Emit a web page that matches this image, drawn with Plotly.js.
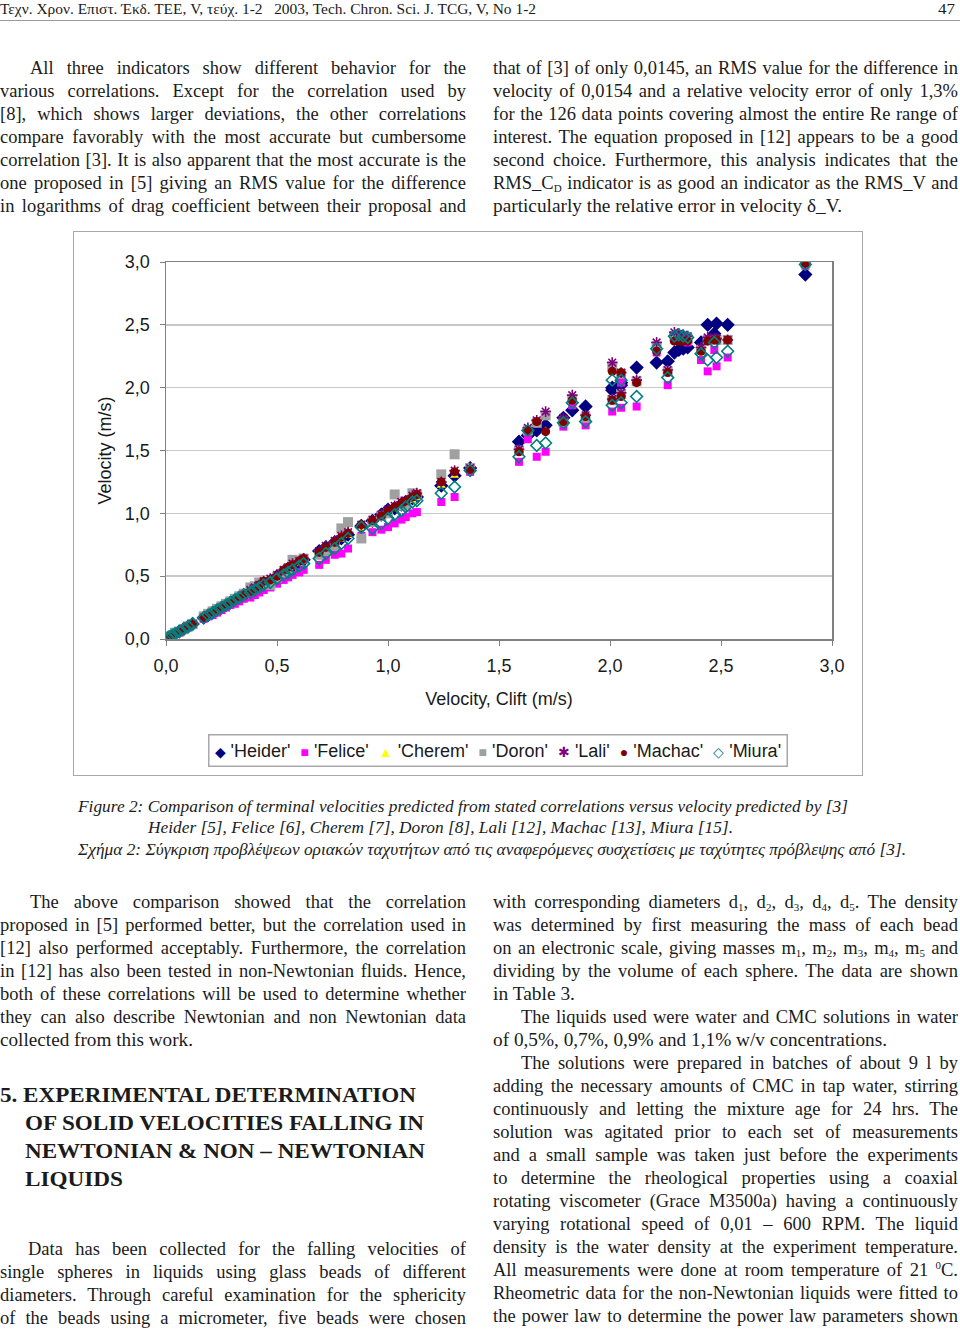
<!DOCTYPE html>
<html>
<head>
<meta charset="utf-8">
<script src="https://cdn.plot.ly/plotly-3.0.1.min.js"></script>
<style>
  body { margin:0; background:#fff; width:960px; height:1331px; position:relative; overflow:hidden;
         font-family:"Liberation Serif","Times New Roman",serif; color:#1b1b1b; }
  .ln { position:absolute; white-space:nowrap; font-size:18.5px; line-height:23px; transform-origin:0 50%; }
  .ln sub { font-size:11px; vertical-align:-3px; line-height:0; }
  .ln sup { font-size:11px; vertical-align:7px; line-height:0; }
  .hd { font-size:15.5px; }
  .h2 { font-weight:bold; font-size:21.5px; }
  .cap { font-style:italic; font-size:17px; }
  #rule { position:absolute; left:0; top:20px; width:960px; height:1px; background:#9a9a9a; }
  #box { position:absolute; left:73px; top:231px; width:790px; height:545px; border:1.5px solid #a8a8a8; box-sizing:border-box; }
  #chart { position:absolute; left:75px; top:233px; width:786px; height:541px; }
</style>
</head>
<body>
<div id="rule"></div>
<div id="box"></div>
<div id="chart"></div>
<script>
// ---------- DATA (Clift velocity vs predicted velocity, m/s) ----------
const seriesNames = ["'Heider'", "'Felice'", "'Cherem'", "'Doron'", "'Lali'", "'Machac'", "'Miura'"];

const clift = [
  0.01,0.02,0.03,0.04,0.06,0.08,0.10,0.12,
  0.17,0.19,0.21,0.23,0.25,0.27,0.29,0.31,0.33,0.35,
  0.38,0.40,0.42,0.44,
  0.47,0.50,0.53,0.55,0.57,0.60,0.62,
  0.69,0.72,0.76,0.79,0.82,0.88,
  0.93,0.97,1.00,1.03,1.06,1.08,1.11,1.13,
  1.24,1.30,1.37,
  1.59,1.63,1.67,1.71,
  1.79,1.83,1.89,
  2.01,2.01,2.05,2.05,2.12,
  2.21,2.26,2.29,2.31,2.33,2.35,
  2.41,2.44,2.47,2.48,2.53,
  2.88
];

const heider = [
  0.01,0.02,0.03,0.04,0.06,0.08,0.10,0.12,
  0.17,0.19,0.21,0.23,0.25,0.27,0.29,0.31,0.33,0.35,
  0.38,0.40,0.42,0.44,
  0.46,0.50,0.53,0.56,0.58,0.61,0.63,
  0.70,0.73,0.77,0.80,0.83,0.90,
  0.94,0.99,1.03,1.04,1.07,1.09,1.12,1.13,
  1.22,1.30,1.36,
  1.57,1.62,1.66,1.70,
  1.76,1.82,1.85,
  1.98,2.00,2.02,2.04,2.16,
  2.20,2.21,2.28,2.30,2.31,2.32,
  2.36,2.50,2.43,2.51,2.50,
  2.90
];

const felice = [
  0.01,0.02,0.03,0.04,0.05,0.07,0.09,0.11,
  0.16,0.18,0.19,0.21,0.23,0.25,0.27,0.28,0.30,0.32,
  0.33,0.35,0.37,0.39,
  0.41,0.44,0.47,0.49,0.51,0.53,0.55,
  0.59,0.63,0.67,0.68,0.72,0.82,
  0.85,0.87,0.89,0.92,0.95,0.97,1.00,1.01,
  1.09,1.13,1.33,
  1.41,1.59,1.45,1.49,
  1.69,1.86,1.70,
  1.81,2.16,1.84,2.04,1.85,
  2.28,2.02,2.38,2.38,2.37,2.36,
  2.22,2.13,2.30,2.17,2.24,
  2.97
];

const cherem = [
  0.01,0.02,0.03,0.04,0.06,0.08,0.10,0.12,
  0.17,0.19,0.21,0.23,0.25,0.27,0.29,0.31,0.33,0.35,
  0.38,0.40,0.42,0.44,
  0.47,0.50,0.53,0.55,0.57,0.60,0.62,
  0.68,0.72,0.76,0.79,0.82,0.88,
  0.93,0.97,1.00,1.04,1.06,1.08,1.10,1.12,
  1.22,1.30,1.35,
  1.48,1.64,1.71,1.66,
  1.72,1.89,1.75,
  1.89,2.12,1.93,2.09,2.03,
  2.30,2.11,2.38,2.38,2.37,2.36,
  2.29,2.37,2.37,2.37,2.37,
  2.98
];

const doron = [
  0.01,0.02,0.03,0.05,0.06,0.08,0.10,0.12,
  0.18,0.20,0.22,0.24,0.26,0.28,0.30,0.32,0.34,0.36,
  0.41,0.42,0.45,0.44,
  0.43,0.49,0.53,0.56,0.63,0.62,0.64,
  0.67,0.70,0.74,0.88,0.93,0.80,
  0.93,0.98,1.00,1.15,1.06,1.07,1.16,1.15,
  1.31,1.47,1.36,
  1.50,1.66,1.72,1.78,
  1.73,1.91,1.76,
  1.90,2.17,1.95,2.11,2.05,
  2.33,2.13,2.41,2.40,2.40,2.39,
  2.30,2.38,2.38,2.38,2.38,
  2.99
];

const lali = [
  0.01,0.02,0.03,0.04,0.06,0.08,0.10,0.12,
  0.17,0.19,0.21,0.23,0.25,0.27,0.29,0.31,0.33,0.35,
  0.39,0.41,0.43,0.46,
  0.48,0.51,0.55,0.57,0.60,0.62,0.64,
  0.70,0.74,0.78,0.82,0.85,0.91,
  0.95,0.99,1.03,1.06,1.09,1.10,1.14,1.16,
  1.25,1.34,1.36,
  1.51,1.68,1.74,1.81,
  1.76,1.94,1.78,
  1.91,2.20,1.96,2.12,2.06,
  2.36,2.14,2.44,2.43,2.42,2.41,
  2.32,2.40,2.39,2.39,2.38,
  2.99
];

const machac = [
  0.01,0.02,0.03,0.04,0.06,0.08,0.10,0.12,
  0.17,0.19,0.21,0.23,0.25,0.27,0.29,0.31,0.33,0.35,
  0.38,0.40,0.43,0.46,
  0.47,0.50,0.55,0.57,0.59,0.62,0.64,
  0.69,0.73,0.77,0.81,0.84,0.91,
  0.94,0.98,1.02,1.05,1.08,1.10,1.13,1.15,
  1.25,1.33,1.35,
  1.49,1.66,1.73,1.65,
  1.73,1.90,1.77,
  1.90,2.13,1.93,2.12,2.04,
  2.29,2.12,2.37,2.37,2.37,2.37,
  2.29,2.37,2.38,2.38,2.38,
  2.99
];

const miura = [
  0.01,0.02,0.03,0.04,0.06,0.08,0.10,0.12,
  0.17,0.19,0.21,0.23,0.25,0.27,0.29,0.31,0.33,0.35,
  0.37,0.39,0.41,0.43,
  0.45,0.48,0.51,0.53,0.55,0.58,0.60,
  0.64,0.68,0.72,0.76,0.80,0.89,
  0.88,0.92,0.96,0.99,1.02,1.05,1.09,1.10,
  1.16,1.21,1.34,
  1.45,1.66,1.54,1.56,
  1.72,1.88,1.73,
  1.86,2.06,1.88,2.06,1.93,
  2.31,2.08,2.41,2.42,2.41,2.40,
  2.27,2.22,2.36,2.24,2.29,
  2.98
];

const xTicks = [0, 0.5, 1, 1.5, 2, 2.5, 3];
const yTicks = [0, 0.5, 1, 1.5, 2, 2.5, 3];

// ---------- PAGE TEXT ----------
// [left, centre y, width, html, mode, class]  mode: j = justified line, f = fit to width
const pageLines = [
  [0, 9, 536, "Τεχν. Χρον. Επιστ. Έκδ. ΤΕΕ, V, τεύχ. 1-2&nbsp;&nbsp; 2003, Tech. Chron. Sci. J. TCG, V, No 1-2", "f", "hd"],
  [938, 9, 17, "47", "f", "hd"],

  [30, 69, 436, "All three indicators show different behavior for the", "j"],
  [0, 92, 466, "various correlations. Except for the correlation used by", "j"],
  [0, 115, 466, "[8], which shows larger deviations, the other correlations", "j"],
  [0, 138, 466, "compare favorably with the most accurate but cumbersome", "j"],
  [0, 161, 466, "correlation [3]. It is also apparent that the most accurate is the", "j"],
  [0, 184, 466, "one proposed in [5] giving an RMS value for the difference", "j"],
  [0, 207, 466, "in logarithms of drag coefficient between their proposal and", "j"],

  [493, 69, 465, "that of [3] of only 0,0145, an RMS value for the difference in", "j"],
  [493, 92, 465, "velocity of 0,0154 and a relative velocity error of only 1,3%", "j"],
  [493, 115, 465, "for the 126 data points covering almost the entire Re range of", "j"],
  [493, 138, 465, "interest. The equation proposed in [12] appears to be a good", "j"],
  [493, 161, 465, "second choice. Furthermore, this analysis indicates that the", "j"],
  [493, 184, 465, "RMS_C<sub>D</sub> indicator is as good an indicator as the RMS_V and", "j"],
  [493, 207, 349, "particularly the relative error in velocity δ_V.", "f"],

  [78, 807, 770, "Figure 2: Comparison of terminal velocities predicted from stated correlations versus velocity predicted by [3]", "f", "cap"],
  [148, 828, 585, "Heider [5], Felice [6], Cherem [7], Doron [8], Lali [12], Machac [13], Miura [15].", "f", "cap"],
  [78, 850, 828, "Σχήμα 2: Σύγκριση προβλέψεων οριακών ταχυτήτων από τις αναφερόμενες συσχετίσεις με ταχύτητες πρόβλεψης από [3].", "f", "cap"],

  [30, 903, 436, "The above comparison showed that the correlation", "j"],
  [0, 926, 466, "proposed in [5] performed better, but the correlation used in", "j"],
  [0, 949, 466, "[12] also performed acceptably. Furthermore, the correlation", "j"],
  [0, 972, 466, "in [12] has also been tested in non-Newtonian fluids. Hence,", "j"],
  [0, 995, 466, "both of these correlations will be used to determine whether", "j"],
  [0, 1018, 466, "they can also describe Newtonian and non Newtonian data", "j"],
  [0, 1041, 193, "collected from this work.", "f"],

  [0, 1096, 416, "5. EXPERIMENTAL DETERMINATION", "f", "h2"],
  [25, 1124, 399, "OF SOLID VELOCITIES FALLING IN", "f", "h2"],
  [25, 1152, 400, "NEWTONIAN &amp; NON – NEWTONIAN", "f", "h2"],
  [25, 1180, 98, "LIQUIDS", "f", "h2"],

  [28, 1250, 438, "Data has been collected for the falling velocities of", "j"],
  [0, 1273, 466, "single spheres in liquids using glass beads of different", "j"],
  [0, 1296, 466, "diameters. Through careful examination for the sphericity", "j"],
  [0, 1319, 466, "of the beads using a micrometer, five beads were chosen", "j"],

  [493, 903, 465, "with corresponding diameters d<sub>1</sub>, d<sub>2</sub>, d<sub>3</sub>, d<sub>4</sub>, d<sub>5</sub>. The density", "j"],
  [493, 926, 465, "was determined by first measuring the mass of each bead", "j"],
  [493, 949, 465, "on an electronic scale, giving masses m<sub>1</sub>, m<sub>2</sub>, m<sub>3</sub>, m<sub>4</sub>, m<sub>5</sub> and", "j"],
  [493, 972, 465, "dividing by the volume of each sphere. The data are shown", "j"],
  [493, 995, 82, "in Table 3.", "f"],
  [521, 1018, 437, "The liquids used were water and CMC solutions in water", "j"],
  [493, 1041, 394, "of 0,5%, 0,7%, 0,9% and 1,1% w/v concentrations.", "f"],
  [521, 1064, 437, "The solutions were prepared in batches of about 9 l by", "j"],
  [493, 1087, 465, "adding the necessary amounts of CMC in tap water, stirring", "j"],
  [493, 1110, 465, "continuously and letting the mixture age for 24 hrs. The", "j"],
  [493, 1133, 465, "solution was agitated prior to each set of measurements", "j"],
  [493, 1156, 465, "and a small sample was taken just before the experiments", "j"],
  [493, 1179, 465, "to determine the rheological properties using a coaxial", "j"],
  [493, 1202, 465, "rotating viscometer (Grace M3500a) having a continuously", "j"],
  [493, 1225, 465, "varying rotational speed of 0,01 – 600 RPM. The liquid", "j"],
  [493, 1248, 465, "density is the water density at the experiment temperature.", "j"],
  [493, 1271, 465, "All measurements were done at room temperature of 21 <sup>0</sup>C.", "j"],
  [493, 1294, 465, "Rheometric data for the non-Newtonian liquids were fitted to", "j"],
  [493, 1317, 465, "the power law to determine the power law parameters shown", "j"]
];

function placeLine(x, yc, w, html, mode, cls) {
  const d = document.createElement("div");
  d.className = "ln " + (cls || "");
  d.innerHTML = html;
  d.style.left = x + "px";
  d.style.top = (yc - 12) + "px";
  document.body.appendChild(d);
  const nat = d.getBoundingClientRect().width;
  const gaps = (d.textContent.match(/ /g) || []).length;
  if (mode === "j" && nat < w && gaps) {
    d.style.wordSpacing = ((w - nat) / gaps) + "px";
  } else if (nat > 0) {
    d.style.transform = "scaleX(" + (w / nat) + ")";
  }
}
pageLines.forEach(l => placeLine(...l));

// ---------- CHART ----------
const styles = [
  { symbol: "diamond", color: "#000080", size: 11, glyph: "◆" },
  { symbol: "square", color: "#ff00ff", size: 8, glyph: "■" },
  { symbol: "triangle-up", color: "#ffff00", size: 8, glyph: "▲" },
  { symbol: "square", color: "#a0a0a0", size: 10, glyph: "■" },
  { symbol: "asterisk-open", color: "#800080", size: 9, glyph: "✱" },
  { symbol: "circle", color: "#800000", size: 9, glyph: "●" },
  { symbol: "diamond-open", color: "#008080", size: 9, glyph: "◇" }
];
const ySeries = [heider, felice, cherem, doron, lali, machac, miura];

const traces = ySeries.map((ys, i) => {
  const s = styles[i];
  const open = s.symbol.endsWith("-open");
  return {
    x: clift, y: ys, name: seriesNames[i],
    type: "scatter", mode: "markers", showlegend: false,
    marker: {
      symbol: s.symbol, size: s.size, color: s.color,
      line: { color: s.color, width: open ? 1.6 : 0 }
    }
  };
});

// compact Excel-style key, one row, built from the series names
const keyText = seriesNames.map((n, i) =>
  `<span style="color:${styles[i].color};font-size:14px">${styles[i].glyph}</span>\u00a0${n}`
).join("\u00a0\u00a0");

const axisFont = { family: "Liberation Sans, Arial, sans-serif", size: 18, color: "#1a1a1a" };

const layout = {
  width: 786, height: 541,
  margin: { l: 91, r: 29, t: 29, b: 135, autoexpand: false },
  paper_bgcolor: "#fff", plot_bgcolor: "#fff",
  separators: ",.",
  font: axisFont,
  showlegend: false,
  xaxis: {
    range: [0, 3], tickvals: xTicks, tickformat: ".1f",
    showgrid: false, zeroline: false,
    showline: true, linecolor: "#808080", linewidth: 1.5, mirror: true,
    ticks: "outside", ticklen: 5, tickcolor: "#808080",
    ticklabelstandoff: 5, tickfont: axisFont,
    title: { text: "Velocity, Clift (m/s)", font: axisFont, standoff: 17 }
  },
  yaxis: {
    range: [0, 3], tickvals: yTicks, tickformat: ".1f",
    showgrid: true, gridcolor: "#c8c8c8", gridwidth: 1.5, zeroline: false,
    showline: true, linecolor: "#808080", linewidth: 1.5, mirror: true,
    ticks: "outside", ticklen: 5, tickcolor: "#808080",
    ticklabelstandoff: 6, tickfont: axisFont,
    title: { text: "Velocity (m/s)", font: axisFont, standoff: 8 }
  },
  annotations: [{
    xref: "paper", yref: "paper", x: 0.498, y: -0.297,
    xanchor: "center", yanchor: "middle", showarrow: false,
    text: keyText, font: axisFont,
    bordercolor: "#a8a8a8", borderwidth: 1.5, borderpad: 5, bgcolor: "#fff"
  }]
};

Plotly.newPlot("chart", traces, layout, { displayModeBar: false, staticPlot: true });
</script>
</body>
</html>
